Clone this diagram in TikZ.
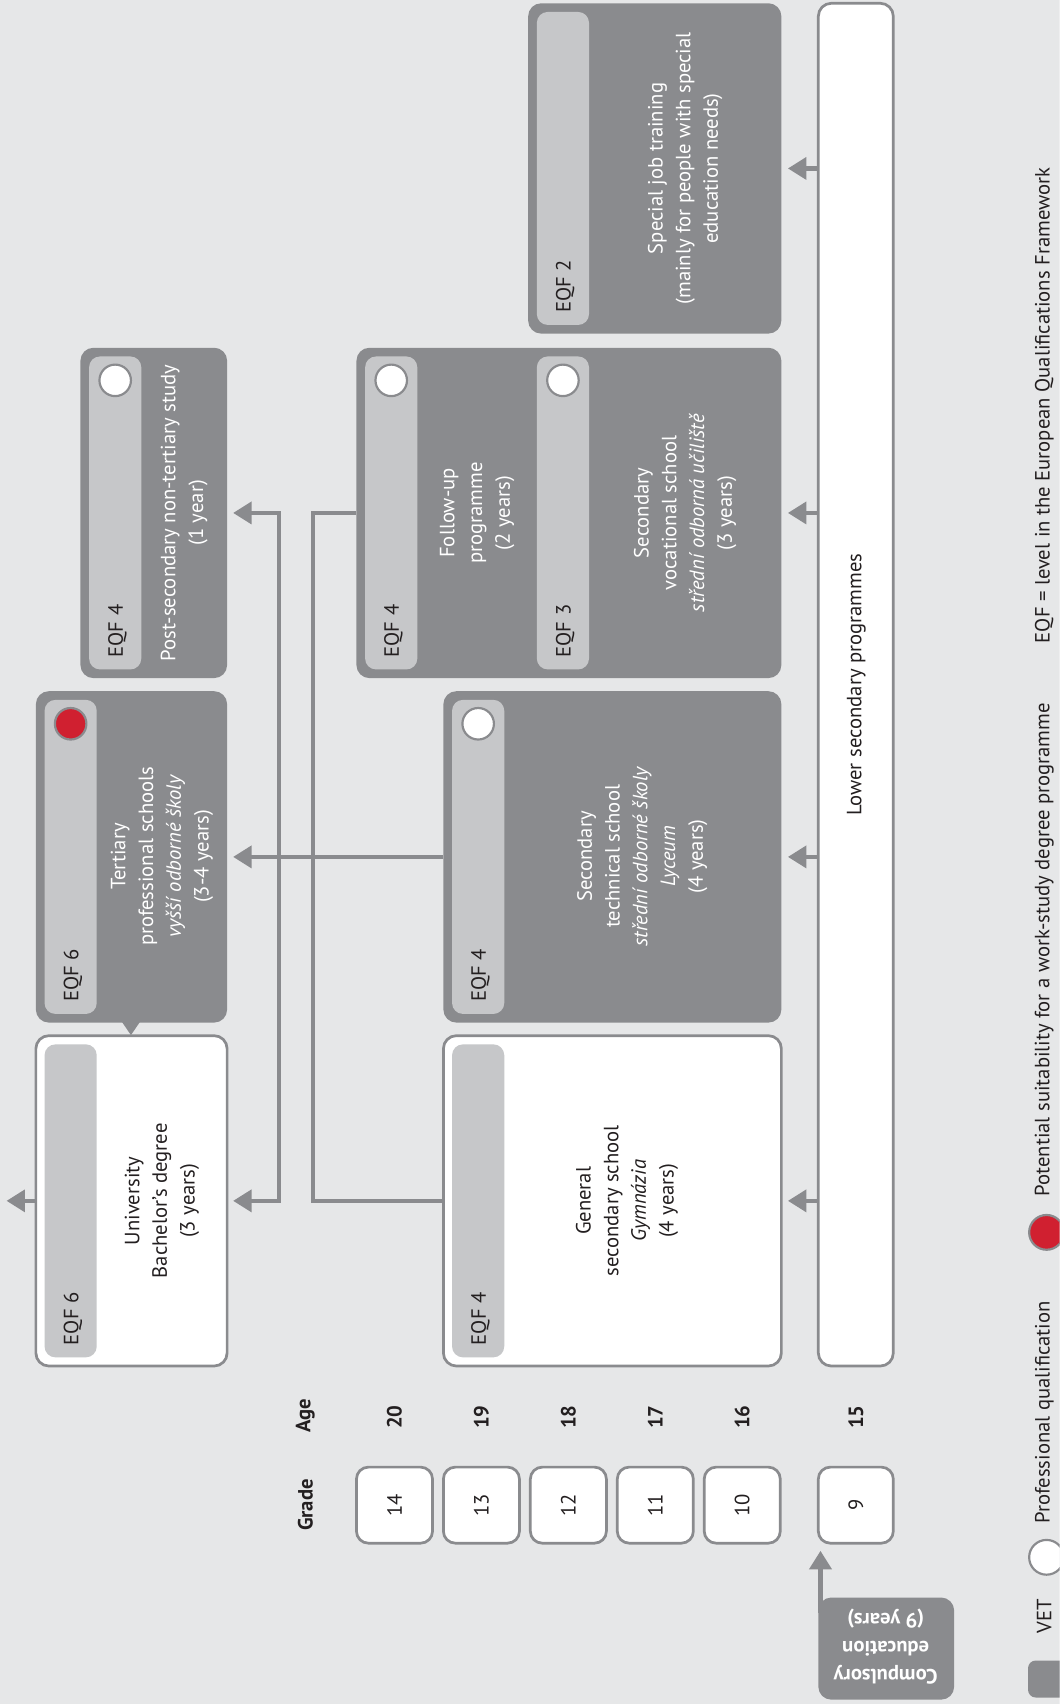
\documentclass[tikz,border=0pt]{standalone}
\usepackage{fontspec}
\setmainfont{PT Sans}
\usetikzlibrary{arrows.meta,fit}
\definecolor{bg}{RGB}{230,231,232}
\definecolor{dgray}{RGB}{138,139,142}
\definecolor{lgray}{RGB}{198,199,201}
\definecolor{redc}{RGB}{208,32,48}
\definecolor{ink}{RGB}{35,31,32}
\newcommand{\rbox}[6]{\node[#1, fit={(#3,#4) (#5,#6)}, inner sep=0pt, outer sep=0pt] (#2) {};}
\begin{document}
\begin{tikzpicture}[x=1pt,y=-1pt,
  darkbox/.style={fill=dgray, rounded corners=12pt},
  whitebox/.style={fill=white, draw=dgray, line width=2.5pt, rounded corners=12pt},
  barbox/.style={fill=lgray, rounded corners=10pt},
  gradebox/.style={fill=white, draw=dgray, line width=2.5pt, rounded corners=11pt},
  legsq/.style={fill=dgray, rounded corners=7pt},
  conn/.style={draw=dgray, line width=4pt},
  arr/.style={conn, -{Triangle[length=17pt,width=20pt]}, shorten >=6pt},
  basetxt/.style={align=center, inner sep=0pt, font=\fontsize{19}{25.5}\selectfont},
  wtxt/.style={basetxt, text=white, rotate=90},
  ktxt/.style={basetxt, text=ink, rotate=90},
  btxt/.style={basetxt, text=ink, rotate=90, font=\fontsize{19}{25.5}\selectfont\bfseries},
  eqf/.style={basetxt, text=ink, rotate=90, anchor=west},
  ltxt/.style={basetxt, text=ink, rotate=90, anchor=west},
  circ/.style={circle, minimum size=29pt, inner sep=0pt, fill=white, draw=dgray, line width=2pt}
]
\useasboundingbox (0,0) rectangle (975,1568);
\clip (0,0) rectangle (975,1568);
\fill[bg] (0,0) rectangle (975,1568);

% ---- programme boxes ----
\rbox{darkbox}{special}{486}{3}{719}{307}
\rbox{barbox}{specialbar}{494}{11}{542}{299}
\node[eqf] (specialeqf) at (520,288) {EQF 2};
\node[wtxt] (specialt) at (630.5,155) {Special job training\\(mainly for people with special\\education needs)};

\rbox{darkbox}{postsec}{74}{320}{209}{624}
\rbox{barbox}{postsecbar}{82}{328}{130}{616}
\node[circ] (postsecc) at (106,350) {};
\node[eqf] (postseceqf) at (108,605) {EQF 4};
\node[wtxt] (postsect) at (169.5,472) {Post-secondary non-tertiary study\\(1 year)};

\rbox{darkbox}{follow}{328}{320}{719}{624}
\rbox{barbox}{followbar}{336}{328}{384}{616}
\rbox{barbox}{vocbar}{494}{328}{542}{616}
\node[circ] (followc) at (360,350) {};
\node[circ] (vocc) at (518,350) {};
\node[eqf] (followeqf) at (362,605) {EQF 4};
\node[eqf] (voceqf) at (520,605) {EQF 3};
\node[wtxt] (followt) at (439,472) {Follow-up\\programme\\(2 years)};
\node[wtxt] (voct) at (630.5,472) {Secondary\\vocational school\\\textit{střední odborná učiliště}\\(3 years)};

\rbox{darkbox}{tert}{33}{636}{209}{941}
\rbox{barbox}{tertbar}{41}{644}{89}{933}
\node[circ, fill=redc] (tertc) at (65,666) {};
\node[eqf] (terteqf) at (67,922) {EQF 6};
\node[wtxt] (tertt) at (149,788) {Tertiary\\professional schools\\\textit{vyšší odborné školy}\\(3-4 years)};

\rbox{darkbox}{sectech}{408}{636}{719}{941}
\rbox{barbox}{sectechbar}{416}{644}{464}{933}
\node[circ] (sectechc) at (440,666) {};
\node[eqf] (secteceqf) at (442,922) {EQF 4};
\node[wtxt] (sectecht) at (591,788) {Secondary\\technical school\\\textit{střední odborné školy}\\\textit{Lyceum}\\(4 years)};

\rbox{whitebox}{univ}{33}{953}{209}{1257}
\rbox{barbox}{univbar}{41}{961}{89}{1249}
\node[eqf] (univeqf) at (67,1238) {EQF 6};
\node[ktxt] (univt) at (149,1105) {University\\Bachelor’s degree\\(3 years)};

\rbox{whitebox}{gensec}{408}{953}{719}{1257}
\rbox{barbox}{gensecbar}{416}{961}{464}{1249}
\node[eqf] (genseceqf) at (442,1238) {EQF 4};
\node[ktxt] (gensect) at (577,1105) {General\\secondary school\\\textit{Gymnázia}\\(4 years)};

\rbox{whitebox}{lower}{753}{3}{822}{1257}
\node[ktxt] (lowert) at (788,630) {Lower secondary programmes};

\fill[dgray] (112,940) -- (129,940) -- (120.5,952.5) -- cycle;

% ---- connectors ----
\coordinate (j1) at (256.5,0);
\coordinate (j2) at (288,0);
\coordinate (exitpt) at (6,1105);
\draw[arr] (lower.west |- special.east) -- (special.east);
\draw[arr] (lower.west |- follow.east) -- (follow.east);
\draw[arr] (lower.west |- sectech.east) -- (sectech.east);
\draw[arr] (lower.west |- gensec.east) -- (gensec.east);
\draw[arr, shorten >=5.5pt] (sectech.west) -- (tert.east);
\draw[conn, {Triangle[length=17pt,width=20pt]}-{Triangle[length=17pt,width=20pt]}, shorten <=5.5pt, shorten >=5.5pt]
  (postsec.east) -- (j1 |- postsec.east) -- (j1 |- univ.east) -- (univ.east);
\draw[conn] (follow.west) -- (j2 |- follow.west) -- (j2 |- gensec.west) -- (gensec.west);
\draw[arr, shorten >=0pt] (univ.west) -- (exitpt);

% ---- grades and ages ----
\node[btxt] (gradel) at (281,1385) {Grade};
\node[btxt] (agel) at (281,1303) {Age};
\rbox{gradebox}{g14}{328}{1350}{398}{1420}
\rbox{gradebox}{g13}{408}{1350}{478}{1420}
\rbox{gradebox}{g12}{488}{1350}{558}{1420}
\rbox{gradebox}{g11}{568}{1350}{638}{1420}
\rbox{gradebox}{g10}{648}{1350}{718}{1420}
\rbox{gradebox}{g9}{753}{1350}{822}{1420}
\node[ktxt] (g14t) at (g14) {14};
\node[ktxt] (g13t) at (g13) {13};
\node[ktxt] (g12t) at (g12) {12};
\node[ktxt] (g11t) at (g11) {11};
\node[ktxt] (g10t) at (g10) {10};
\node[ktxt] (g9t) at (g9) {9};
\node[btxt] (a20) at (363,1304) {20};
\node[btxt] (a19) at (443,1304) {19};
\node[btxt] (a18) at (523,1304) {18};
\node[btxt] (a17) at (603,1304) {17};
\node[btxt] (a16) at (683,1304) {16};
\node[btxt] (a15) at (787.5,1304) {15};

\rbox{darkbox}{comp}{753}{1470}{878}{1564}
\node[basetxt, text=white, rotate=180, font=\fontsize{19}{25.5}\selectfont\bfseries] (compt) at (815,1515) {Compulsory\\education\\(9 years)};
\draw[arr, shorten >=7pt] ([xshift=2pt,yshift=-14pt]comp.north west) -- ([xshift=2pt]g9.south west);

% ---- legend ----
\rbox{legsq}{vetsq}{946}{1528}{990}{1562}
\node[ltxt] (vett) at (961,1503) {VET};
\node[circ, minimum size=32pt] (legw) at (963,1433) {};
\node[ltxt] (profq) at (961,1402) {Professional qualification};
\node[circ, fill=redc, minimum size=32pt] (legr) at (963,1134) {};
\node[ltxt] (pot) at (961,1101) {Potential suitability for a work-study degree programme};
\node[ltxt] (eqfl) at (961,592) {EQF = level in the European Qualifications Framework};
\end{tikzpicture}
\end{document}
